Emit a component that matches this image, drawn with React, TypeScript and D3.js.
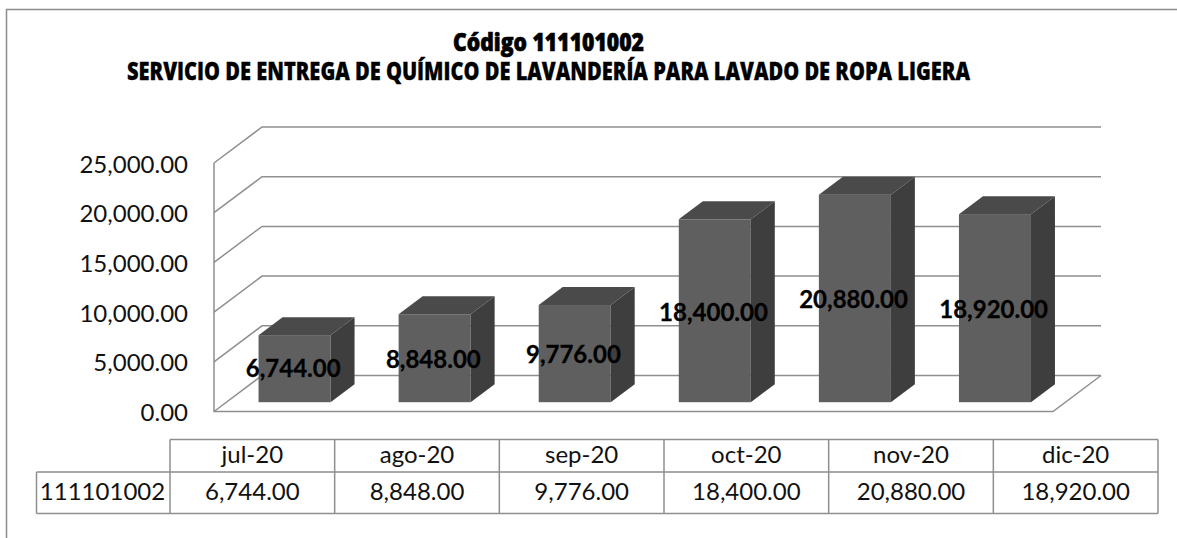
import React from "react";
import * as d3 from "d3";

// Datos de la gráfica
const categorias = ["jul-20", "ago-20", "sep-20", "oct-20", "nov-20", "dic-20"];
const valores = [6744, 8848, 9776, 18400, 20880, 18920];
const ticks = [0, 5000, 10000, 15000, 20000, 25000];
const codigo = "111101002";
const titulo = "Código 111101002";
const subtitulo = "SERVICIO DE ENTREGA DE QUÍMICO DE LAVANDERÍA PARA LAVADO DE ROPA LIGERA";

// Las etiquetas del original fueron movidas a mano: línea base de cada una
const etiquetaBase = [377.3, 367.7, 363.3, 320.7, 308.3, 318.3];

const fmt = d3.format(",.2f");
const depthX = 48;
const depthY = 36;
const barDx = 24;
const barDy = 18;

export default function App() {
  const y = d3.scaleLinear().domain([0, 25000]).range([411.5, 163]);
  const x = d3.scaleBand<string>().domain(categorias).range([224.5, 1065]).paddingInner(0.486).paddingOuter(0.243);
  const cols = d3.scaleBand<string>().domain(categorias).range([170, 1158]);
  const grid = "#8f8f8f";
  const font = "Lato, 'Open Sans', sans-serif";
  const titleFont = "'Open Sans', 'Noto Sans', sans-serif";
  const xl = 214;
  const xr = 1053;

  return (
    <svg width={1177} height={538} style={{ position: "absolute", left: 0, top: 0, background: "#fff" }}>
      {/* Solo se ve el borde superior e izquierdo */}
      <path d="M6.5,538V9.5H1177" fill="none" stroke="#8c8c8c" strokeWidth={1.5} />
      <text x={548.5} y={51} textAnchor="middle" fontFamily={titleFont} fontWeight={800} fontSize={25} textLength={191} lengthAdjust="spacingAndGlyphs" stroke="#000" strokeWidth={0.7} fill="#000">{titulo}</text>
      <text x={548.5} y={80} textAnchor="middle" fontFamily={titleFont} fontWeight={800} fontSize={24.5} textLength={843} lengthAdjust="spacingAndGlyphs" stroke="#000" strokeWidth={0.3} fill="#000">{subtitulo}</text>

      {ticks.map((t) => (
        <g key={t}>
          <path
            d={`M${xl},${y(t)}L${xl + depthX},${y(t) - depthY}H${xr + depthX}`}
            fill="none"
            stroke={grid}
            strokeWidth={1.5}
          />
          <text x={188} y={y(t) + 9.5} textAnchor="end" fontFamily={font} fontSize={24} fill="#111">{fmt(t)}</text>
        </g>
      ))}
      <path d={`M${xl},${y(25000)}V${y(0)}H${xr}L${xr + depthX},${y(0) - depthY}`} fill="none" stroke={grid} strokeWidth={1.5} />

      {valores.map((v, i) => {
        const c = categorias[i];
        const x0 = x(c)!;
        const w = x.bandwidth();
        const top = y(v) - 9.3;
        const base = y(0) - 9.3;
        return (
          <g key={c}>
            <rect x={x0} y={top} width={w} height={base - top} fill="#5f5f5f" />
            <path d={`M${x0},${top}l${barDx},${-barDy}h${w}l${-barDx},${barDy}Z`} fill="#4a4a4a" />
            <path d={`M${x0 + w},${top}l${barDx},${-barDy}V${base - barDy}l${-barDx},${barDy}Z`} fill="#3e3e3e" />
          </g>
        );
      })}
      {valores.map((v, i) => {
        const c = categorias[i];
        return (
          <text key={c} x={x(c)! + x.bandwidth() / 2 - 1.3} y={etiquetaBase[i]} textAnchor="middle" fontFamily={font} fontWeight={700} fontSize={24} stroke="#000" strokeWidth={0.3} fill="#000">{fmt(v)}</text>
        );
      })}

      {/* Tabla de datos */}
      <g stroke={grid} strokeWidth={1.5} fill="none">
        <path d="M170,439.5H1158M36.5,472H1158M36.5,513.5H1158M36.5,472V513.5M1158,439.5V513.5" />
        {categorias.map((c) => (
          <path key={c} d={`M${cols(c)},439.5V513.5`} />
        ))}
      </g>
      {categorias.map((c, i) => (
        <g key={c} fontFamily={font} fontSize={24} fill="#111" textAnchor="middle">
          <text x={cols(c)! + cols.bandwidth() / 2} y={463}>{c}</text>
          <text x={cols(c)! + cols.bandwidth() / 2} y={500}>{fmt(valores[i])}</text>
        </g>
      ))}
      <text x={102.5} y={500} textAnchor="middle" fontFamily={font} fontSize={24} fill="#111">{codigo}</text>
    </svg>
  );
}
